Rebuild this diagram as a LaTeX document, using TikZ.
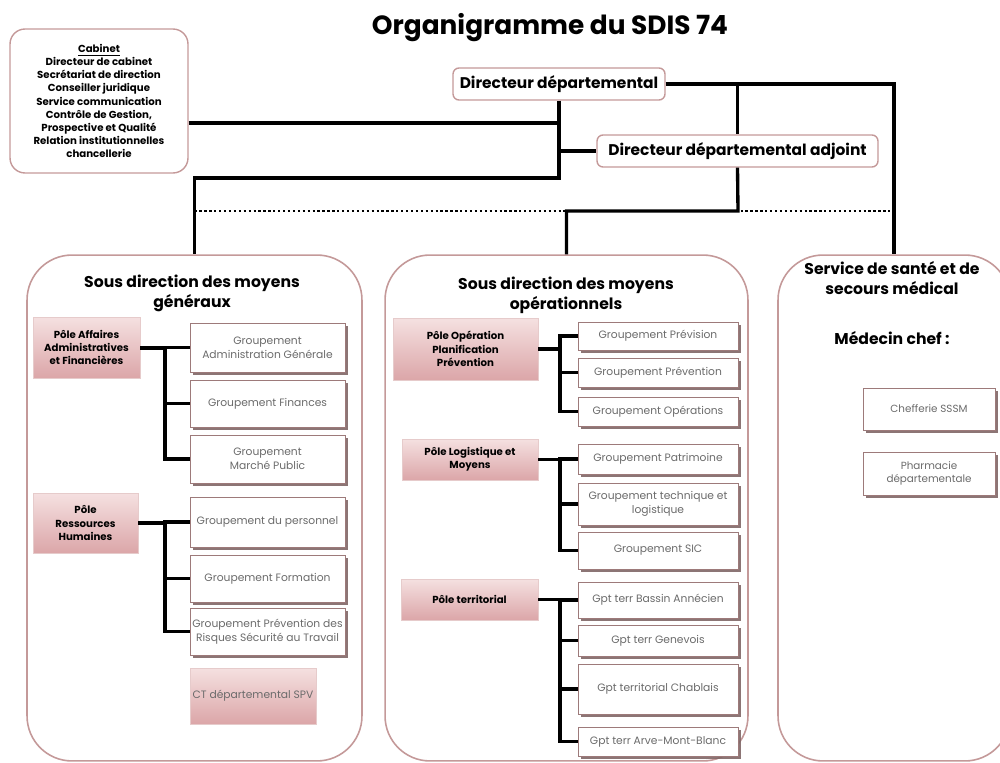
\documentclass[tikz,border=0pt]{standalone}
\usepackage{fontspec}
\setmainfont{Poppins}
\usetikzlibrary{shadows}
\definecolor{rosebord}{rgb}{0.77,0.6,0.6}
\definecolor{rosepale}{rgb}{0.96,0.88,0.88}
\definecolor{rosefonce}{rgb}{0.86,0.65,0.66}
\definecolor{grisgp}{rgb}{0.42,0.42,0.42}
\definecolor{ombre}{rgb}{0.5,0.4,0.4}

\begin{document}
\begin{tikzpicture}[x=0.02cm,y=-0.02cm,
    dirbox/.style={draw=rosebord,line width=0.8,rounded corners=0.12cm,fill=white,
      minimum height=0.64cm,font=\bfseries\fontsize{8.8}{10}\selectfont},
    sdbox/.style={draw=rosebord,line width=0.9,rounded corners=0.9cm,fill=white},
    sdtitle/.style={align=center,font=\bfseries\fontsize{8.9}{11.3}\selectfont},
    polebox/.style={draw=rosepale!70!rosebord,top color=rosepale,bottom color=rosefonce,
      align=center,inner sep=1pt,font=\bfseries\fontsize{5.8}{7.6}\selectfont},
    gpbox/.style={draw=rosebord!80!black,line width=0.5,fill=white,
      drop shadow={shadow xshift=1.8pt,shadow yshift=-1.8pt,fill=ombre,opacity=0.9},
      text=grisgp,align=center,inner sep=1pt,font=\fontsize{6.1}{8}\selectfont},
    link/.style={line width=1.9}]
  \useasboundingbox (0,0) rectangle (1000,763);

  % titre et direction
  \node (titre) at (550,28) {\bfseries\fontsize{15}{18}\selectfont Organigramme du SDIS 74};
  \node[draw=rosebord,line width=0.8,rounded corners=0.3cm,minimum width=3.56cm,minimum height=2.88cm,
    align=center,font=\bfseries\fontsize{5.8}{7.5}\selectfont] (cab) at (99,101)
    {\underline{Cabinet}\\Directeur de cabinet\\Secrétariat de direction\\Conseiller juridique\\
     Service communication\\Contrôle de Gestion,\\Prospective et Qualité\\
     Relation institutionnelles\\chancellerie};
  \node[dirbox,minimum width=4.24cm] (dd) at (559,84) {Directeur départemental};
  \node[dirbox,minimum width=5.62cm] (dda) at (737.5,151) {Directeur départemental adjoint};

  % sous directions
  \node[sdbox,minimum width=6.7cm,minimum height=10.12cm] (sdmg) at (194.5,508) {};
  \node[sdbox,minimum width=7.26cm,minimum height=10.12cm] (sdmo) at (566.5,508) {};
  \node[sdbox,minimum width=4.64cm,minimum height=10.12cm] (sssm) at (894,508) {};
  \node[sdtitle] (tmg) at (192,293) {Sous direction des moyens\\généraux};
  \node[sdtitle] (tmo) at (566,295) {Sous direction des moyens\\opérationnels};
  \node[sdtitle] (tss) at (892,278) {Service de santé et de\\secours médical};
  \node[sdtitle] (medchef) at (892,338) {Médecin chef :};

  % liaisons du haut
  \coordinate (kcab) at (559,123);
  \coordinate (kfork) at (559,178);
  \coordinate (kdot) at (738,211);
  \draw[line width=1.2,dash pattern=on 1.3pt off 1.5pt] (sdmg.north |- kdot) -- (sssm.north |- kdot);
  \draw[link] (kcab -| cab.east) -- (kcab);
  \draw[link] (dd.south) -- (kfork) -| (sdmg.north);
  \draw[link] (dd.south |- dda.west) -- (dda.west);
  \draw[link] (dd.east -| dda.north) -- (dda.north);
  \draw[link] (dd.east) -| (sssm.north);
  \draw[link] (dda.south) -- (kdot) -| (sdmo.north);

  % moyens generaux
  \node[polebox,minimum width=2.14cm,minimum height=1.22cm] (paaf) at (86.5,347.5)
    {Pôle Affaires\\Administratives\\et Financières};
  \node[polebox,minimum width=2.1cm,minimum height=1.2cm] (prh) at (85.5,523)
    {Pôle\\Ressources\\Humaines};
  \node[polebox,minimum width=2.52cm,minimum height=1.12cm,font=\fontsize{6.1}{8}\selectfont,text=grisgp]
    (pctspv) at (253,696) {CT départemental SPV};
  \node[gpbox,minimum width=3.1cm,minimum height=0.98cm] (gadm) at (267.5,347.5)
    {Groupement\\Administration Générale};
  \node[gpbox,minimum width=3.1cm,minimum height=0.94cm] (gfin) at (267.5,403.5) {Groupement Finances};
  \node[gpbox,minimum width=3.1cm,minimum height=0.96cm] (gmp) at (267.5,459) {Groupement\\Marché Public};
  \node[gpbox,minimum width=3.1cm,minimum height=1.0cm] (gper) at (267.5,522) {Groupement du personnel};
  \node[gpbox,minimum width=3.1cm,minimum height=0.94cm] (gfor) at (267.5,578.5) {Groupement Formation};
  \node[gpbox,minimum width=3.1cm,minimum height=0.94cm] (gprs) at (267.5,631.5)
    {Groupement Prévention des\\Risques Sécurité au Travail};
  \coordinate (jaaf) at (165,348);
  \coordinate (jrh) at (165,523);
  \draw[link] (paaf.east |- jaaf) -- (jaaf);
  \draw[link] (prh.east |- jrh) -- (jrh);
  \foreach \g in {gadm,gfin,gmp} \draw[link] (jaaf) |- (\g.west);
  \foreach \g in {gper,gfor,gprs} \draw[link] (jrh) |- (\g.west);

  % moyens operationnels
  \node[polebox,minimum width=2.9cm,minimum height=1.24cm] (popp) at (465.5,349)
    {Pôle Opération\\Planification\\Prévention};
  \node[polebox,minimum width=2.72cm,minimum height=0.82cm] (plm) at (470,459.5)
    {Pôle Logistique et\\Moyens};
  \node[polebox,minimum width=2.74cm,minimum height=0.82cm] (pter) at (469.5,599.5) {Pôle territorial};
  \node[gpbox,minimum width=3.2cm,minimum height=0.56cm] (gprv) at (658,336) {Groupement Prévision};
  \node[gpbox,minimum width=3.2cm,minimum height=0.58cm] (gpre) at (658,372.5) {Groupement Prévention};
  \node[gpbox,minimum width=3.2cm,minimum height=0.58cm] (gope) at (658,411.5) {Groupement Opérations};
  \node[gpbox,minimum width=3.2cm,minimum height=0.6cm] (gpat) at (658,459) {Groupement Patrimoine};
  \node[gpbox,minimum width=3.2cm,minimum height=0.84cm] (gtec) at (658,504)
    {Groupement technique et\\logistique};
  \node[gpbox,minimum width=3.2cm,minimum height=0.74cm] (gsic) at (658,550.5) {Groupement SIC};
  \node[gpbox,minimum width=3.2cm,minimum height=0.72cm] (gban) at (658,600) {Gpt terr Bassin Annécien};
  \node[gpbox,minimum width=3.2cm,minimum height=0.62cm] (ggen) at (658,640.5) {Gpt terr Genevois};
  \node[gpbox,minimum width=3.2cm,minimum height=1.0cm] (gcha) at (658,689) {Gpt territorial Chablais};
  \node[gpbox,minimum width=3.2cm,minimum height=0.58cm] (garv) at (658,741.5) {Gpt terr Arve-Mont-Blanc};
  \coordinate (jopp) at (560,349);
  \coordinate (jlm) at (560,459.5);
  \coordinate (jter) at (560,599.5);
  \draw[link] (popp.east) -- (jopp);
  \draw[link] (plm.east) -- (jlm);
  \draw[link] (pter.east) -- (jter);
  \foreach \g in {gprv,gpre,gope} \draw[link] (jopp) |- (\g.west);
  \foreach \g in {gpat,gtec,gsic} \draw[link] (jlm) |- (\g.west);
  \foreach \g in {gban,ggen,gcha,garv} \draw[link] (jter) |- (\g.west);

  % sante
  \node[gpbox,minimum width=2.64cm,minimum height=0.84cm,font=\fontsize{5.9}{7.6}\selectfont] (gchf) at (929,409)
    {Chefferie SSSM};
  \node[gpbox,minimum width=2.64cm,minimum height=0.86cm,font=\fontsize{5.9}{7.6}\selectfont] (gpha) at (929,473.5)
    {Pharmacie\\départementale};
\end{tikzpicture}
\end{document}
